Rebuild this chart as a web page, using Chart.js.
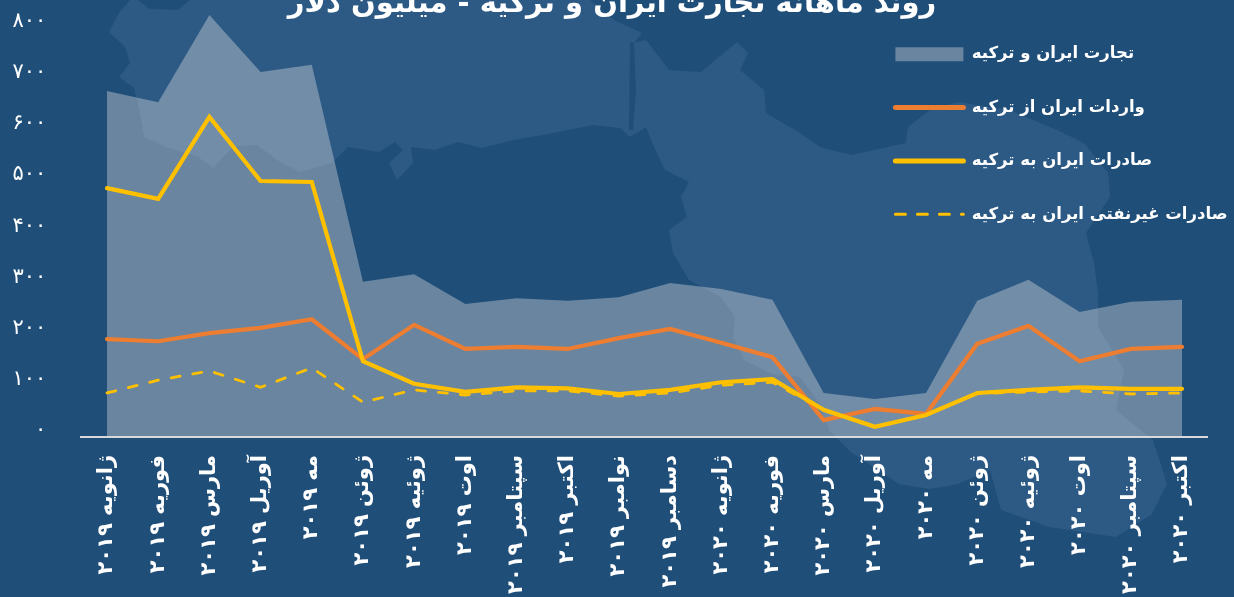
<!DOCTYPE html>
<html lang="fa">
<head>
<meta charset="utf-8">
<title>روند ماهانه تجارت ایران و ترکیه</title>
<script src="https://cdn.jsdelivr.net/npm/chart.js@4"></script>
<style>
  html, body { margin: 0; padding: 0; background: #1f4e79; overflow: hidden; }
  #wrap { position: relative; width: 1234px; height: 597px; overflow: hidden; }
  #map { position: absolute; left: 0; top: 0; }
  canvas { position: absolute; left: 0; top: 0; }
</style>
</head>
<body>
<div id="wrap">
  <!-- backdrop map, decoration only -->
  <svg id="map" width="1234" height="597" viewBox="0 0 1234 597">
    <polygon fill="#2d5a85" points="130,0 119,13 109,32 125,47 130,63 119,77 134,88 140,113 144,137 166,147 198,157 213,168 233,147 257,145 277,160 300,172 332,163 348,147 379,152 395,142 403,150 389,163 397,180 413,163 411,147 435,150 458,142 482,148 514,140 553,133 593,125 620,128 630,137 646,127 654,147 665,170 689,182 681,197 687,217 669,230 673,253 689,280 721,297 735,317 733,337 744,360 772,374 800,377 820,404 829,430 851,452 899,484 930,489 958,484 990,470 1001,510 1049,527 1116,537 1152,514 1167,484 1153,440 1116,410 1124,370 1098,327 1098,293 1094,263 1086,233 1110,197 1108,173 1084,143 1057,130 1009,110 958,102 930,110 908,127 906,143 851,155 820,147 800,133 766,113 764,90 740,70 748,53 737,42 701,72 669,70 646,40 634,43 642,33 614,20 590,0"/>
    <polygon fill="#1f4e79" points="138,0 190,0 178,10 150,9"/>
    <polygon fill="#1f4e79" points="630,42 634,43 636,90 633,130 629,130"/>
  </svg>
  <canvas id="chart" width="1234" height="597"></canvas>
</div>
<script>
const categories = [
  "ژانویه ۲۰۱۹", "فوریه ۲۰۱۹", "مارس ۲۰۱۹", "آوریل ۲۰۱۹", "مه ۲۰۱۹", "ژوئن ۲۰۱۹",
  "ژوئیه ۲۰۱۹", "اوت ۲۰۱۹", "سپتامبر ۲۰۱۹", "اکتبر ۲۰۱۹", "نوامبر ۲۰۱۹", "دسامبر ۲۰۱۹",
  "ژانویه ۲۰۲۰", "فوریه ۲۰۲۰", "مارس ۲۰۲۰", "آوریل ۲۰۲۰", "مه ۲۰۲۰", "ژوئن ۲۰۲۰",
  "ژوئیه ۲۰۲۰", "اوت ۲۰۲۰", "سپتامبر ۲۰۲۰", "اکتبر ۲۰۲۰",
];
const trade = [676, 654, 824, 713, 727, 303, 318, 260, 271, 266, 273, 301, 289, 268, 86, 74, 86, 266, 307, 244, 264, 268];
const imports = [191, 187, 203, 213, 230, 152, 219, 172, 176, 172, 193, 211, 184, 156, 33, 55, 45, 182, 217, 148, 172, 176];
const exportsAll = [486, 465, 625, 500, 498, 148, 104, 88, 97, 95, 84, 92, 107, 113, 53, 20, 43, 86, 92, 97, 94, 94];
const exportsNonOil = [86, 111, 129, 97, 135, 68, 92, 82, 90, 90, 80, 86, 101, 107, 52, 20, 43, 85, 88, 90, 84, 86];
const yTickLabels = ["۰", "۱۰۰", "۲۰۰", "۳۰۰", "۴۰۰", "۵۰۰", "۶۰۰", "۷۰۰", "۸۰۰"];
const seriesNames = ["تجارت ایران و ترکیه", "واردات ایران از ترکیه", "صادرات ایران به ترکیه", "صادرات غیرنفتی ایران به ترکیه"];
const titleText = "روند ماهانه تجارت ایران و ترکیه - میلیون دلار";

const fontFamily = "'DejaVu Sans'";
const areaColor = "rgba(217,217,217,0.4)";
const orange = "#ed7d31";
const yellow = "#ffc000";

// the legend sits inside the plot, so it is moved by hand once layout is done
const placeBoxes = {
  id: "placeBoxes",
  afterLayout(chart) {
    const legend = chart.legend;
    legend.left = 858.5;
    legend.top = 9;
    legend.right = 1234;
    legend.bottom = 597;
    chart.titleBlock.left = 16.4;
  },
};

new Chart(document.getElementById("chart"), {
  type: "line",
  plugins: [placeBoxes],
  data: {
    labels: categories,
    datasets: [
      { label: seriesNames[0], data: trade, fill: "origin", backgroundColor: areaColor, borderWidth: 0, order: 4 },
      { label: seriesNames[3], data: exportsNonOil, borderColor: yellow, borderWidth: 2.8, borderDash: [9, 13], borderCapStyle: "round", order: 3 },
      { label: seriesNames[1], data: imports, borderColor: orange, borderWidth: 4.2, borderCapStyle: "round", order: 2 },
      { label: seriesNames[2], data: exportsAll, borderColor: yellow, borderWidth: 4.2, borderCapStyle: "round", order: 1 },
    ],
  },
  options: {
    responsive: false,
    animation: false,
    devicePixelRatio: 1,
    layout: { padding: { top: 0, right: 26.4, bottom: 0, left: 0 } },
    elements: { point: { radius: 0 }, line: { tension: 0, borderJoinStyle: "miter" } },
    clip: false,
    scales: {
      x: {
        offset: true,
        grid: { display: false, drawTicks: false },
        border: { display: true, color: "#d9d9d9", width: 2 },
        ticks: {
          color: "#ffffff",
          autoSkip: false,
          minRotation: 90,
          maxRotation: 90,
          padding: 18,
          font: { family: fontFamily, size: 21, weight: "bold" },
        },
        afterFit(scale) { scale.height = 160; },
      },
      y: {
        min: 0,
        max: 850,
        grid: { display: false, drawTicks: false },
        border: { display: false },
        afterBuildTicks(scale) {
          scale.ticks = scale.ticks.filter((t) => t.value <= 800);
        },
        ticks: {
          stepSize: 100,
          color: "#ffffff",
          padding: 35,
          labelOffset: -6,
          font: { family: fontFamily, size: 21 },
          callback: (value) => yTickLabels[value / 100],
        },
        afterFit(scale) {
          scale.width = 81.4;
          scale.paddingTop = 0;
          scale.paddingBottom = 0;
        },
      },
    },
    plugins: {
      tooltip: { enabled: false },
      title: {
        display: true,
        text: titleText,
        color: "#ffffff",
        font: { family: fontFamily, size: 29, weight: "bold" },
        padding: { top: -13.4, bottom: -19.6 },
      },
      legend: {
        display: true,
        position: "chartArea",
        align: "start",
        textDirection: "rtl",
        labels: {
          color: "#ffffff",
          font: { family: fontFamily, size: 16.5, weight: "bold" },
          boxWidth: 68,
          boxHeight: 14,
          padding: 36.9,
          usePointStyle: true,
          pointStyleWidth: 68,
          generateLabels: () => [
            { text: seriesNames[0], pointStyle: "rect", fillStyle: areaColor, strokeStyle: areaColor, lineWidth: 0, fontColor: "#ffffff" },
            { text: seriesNames[1], pointStyle: "line", fillStyle: orange, strokeStyle: orange, lineWidth: 5, lineCap: "round", fontColor: "#ffffff" },
            { text: seriesNames[2], pointStyle: "line", fillStyle: yellow, strokeStyle: yellow, lineWidth: 5, lineCap: "round", fontColor: "#ffffff" },
            { text: seriesNames[3], pointStyle: "line", fillStyle: yellow, strokeStyle: yellow, lineWidth: 3, lineCap: "round", lineDash: [10, 12], fontColor: "#ffffff" },
          ],
        },
      },
    },
  },
});
</script>
</body>
</html>
